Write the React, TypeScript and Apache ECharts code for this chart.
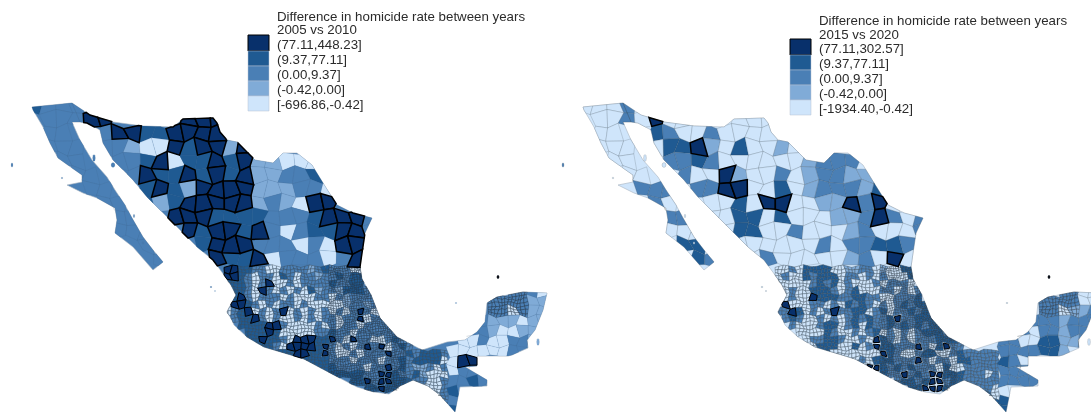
import React, { useEffect, useRef } from "react";
import * as echarts from "echarts";

// Class of each cell: 1 (lowest bin) .. 5 (highest bin), '.' = keep the panel's base class.
const northLeft = [
  "4333",
  ".33355.....555",
  ".33..355445555",
  ".333.33211545525",
  "..33..334514454522111",
  "...33..354454545223342",
  "....33..4542555522233 1",
  ".....33.424555552321553",
  "......33..555444433345553",
  "......333..545545313 44553",
  "........3...45553331315 5",
  ".........3...54451333135",
].map((s) => s.replace(/ /g, ""));
const southLeft = [
  "55443311333323433311",
  "55431331431332334344",
  "44431351131333343344",
  "444315313131423324443",
  ".453133313111331323333",
  ".5543131331311111 23323",
  "13451313513131313135313",
  ".344531311313133133 51333",
  "..4444553111131313313333",
  "...44454111113343313333 33",
  "...445443155544531533113 43",
  "....4443155554531313535134 3",
  "......444455445311313335 33434443",
  ".........444444333133313 34344441",
  "............444433331335 34322313",
  "...............444443355 43342111",
  "..................445355 44433113",
  "....................4454 43..1113",
  ".............................113",
  "..............................13",
  "...............................4",
].map((s) => s.replace(/ /g, ""));
const eastLeft = ["......3331.", "....333322.", "....331322.", "...3222122.", "..3321122..", ".11311332", "1111113.", "155", "133", "3343", "4", "3", "4"];

const northRight = [
  "1113",
  ".1131511...111",
  ".11..431131111",
  ".111.1445214112" + "1",
  "..11..3343111111" + "2333",
  "...11..3115211312" + "33224",
  "....333.335511412" + "33324",
  ".....31..114155" + "11225351",
  "......33.1144141" + "112235313",
  "......111.144113" + "111231113",
  ".......44.11111" + "113133443",
  "........43..131" + "111123151",
];
const southRight = [
  "11314444" + "11223312" + "1144",
  "13114344" + "41331313" + "1114",
  "11111343" + "41311131" + "3331",
  ".1311444" + "31341113" + "31313",
  ".1311544" + "43344331" + "13334",
  ".5111331" + "31434313" + "134344",
  "33541313" + "53344134" + "1334344",
  ".3431131" + "31343433" + "45334444",
  "..311134" + "41341433" + "43434344",
  "...11114" + "31131341" + "31313444" + "3",
  "....1334" + "43113154" + "31313334" + "443",
  ".....144" + "41141354" + "43335314" + "533",
  ".......4" + "11111115" + "43113441" + "13433333",
  "........" + ".1113144" + "43335313" + "31443333",
  "........" + "...11554" + "34343331" + "41133333",
  "........" + ".......4" + "33534355" + "44433313",
  "........" + "........" + ".3443455" + "34433333",
  "........" + "........" + "...44555" + "433.3331",
  "........" + "........" + "........" + ".....341",
  "........" + "........" + "........" + "......34",
  "........" + "........" + "........" + ".......4",
];
const eastRight = ["......3311", "....333311", "....331223", "...3332333", "..3133233", "331144223", "3333442", "431", "333", "3333", "1", "4", "4"];

const islandClassesLeft = [3, 3, 3, 3, 3, 3, 5, 2, 2, 3, 2];
const islandClassesRight = [3, 1, 1, 1, 1, 1, 5, 1, 1, 1, 1];

const binColors = ["#cfe5fb", "#80abd7", "#4a7fb5", "#1f5a92", "#08306b"];
const legendTitle = "Difference in homicide rate between years";
const leftSubtitle = "2005 vs 2010";
const rightSubtitle = "2015 vs 2020";
const leftBins = ["(77.11,448.23]", "(9.37,77.11]", "(0.00,9.37]", "(-0.42,0.00]", "[-696.86,-0.42]"];
const rightBins = ["(77.11,302.57]", "(9.37,77.11]", "(0.00,9.37]", "(-0.42,0.00]", "[-1934.40,-0.42]"];

type P = [number, number];

// Base map shape of the country (map units = pixels of the left panel).
const mainland: P[] = [
  [72, 103], [90, 115], [113, 122], [143, 126], [173, 127], [183, 119], [213, 118], [217, 123], [220, 132], [227, 140],
  [237, 142], [245, 150], [255, 160], [267, 162], [273, 163], [283, 153], [297, 153], [312, 165], [323, 183], [337, 205],
  [353, 213], [372, 218], [365, 233], [362, 253], [360, 267], [362, 279], [371, 295], [380, 318], [397, 337], [422, 350],
  [447, 342], [465, 340], [477, 332], [485, 322], [487, 303], [497, 297], [523, 292], [547, 293], [543, 310], [535, 330],
  [527, 340], [528, 348], [512, 355], [508, 356], [477, 356], [477, 366], [465, 367], [487, 380], [487, 386], [460, 387],
  [455, 412], [440, 395], [428, 386], [413, 380], [400, 386], [389, 394], [374, 392], [357, 387], [334, 375], [304, 359],
  [291, 355], [264, 347], [247, 337], [234, 325], [232, 320], [227, 312], [231, 304], [236, 295], [231, 285], [224, 275],
  [213, 260], [197, 247], [180, 230], [163, 213], [147, 197], [133, 180], [113, 160], [103, 143], [100, 130], [87, 123], [80, 122],
];
const baja: P[] = [
  [32, 107], [72, 103], [80, 122], [72, 122], [80, 140], [92, 160], [107, 177], [115, 190], [125, 205], [132, 218],
  [143, 237], [153, 250], [163, 262], [153, 270], [133, 247], [115, 233], [117, 220], [115, 208], [97, 198], [83, 193],
  [67, 185], [82, 182], [82, 175], [72, 168], [58, 158], [50, 143], [43, 127], [33, 110],
];
const islands: number[][] = [
  [12, 165, 1, 2.2], [94, 158, 1.4, 3.5], [113, 165, 2, 2.5], [62, 178, 0.8, 0.8], [134, 216, 0.7, 1.8], [143, 243, 0.9, 1.3],
  [498, 277, 0.8, 1.6], [538, 342, 1.4, 3.6], [456, 303, 1, 0.6], [211, 287, 1, 0.7], [215, 291, 0.7, 0.6],
];

function clip(subject: P[], quad: P[]): P[] {
  let out = subject;
  for (let k = 0; k < quad.length && out.length; k++) {
    const a = quad[k];
    const b = quad[(k + 1) % quad.length];
    const side = (p: P) => (b[0] - a[0]) * (p[1] - a[1]) - (b[1] - a[1]) * (p[0] - a[0]);
    const input = out;
    out = [];
    for (let i = 0; i < input.length; i++) {
      const cur = input[i];
      const prev = input[(i + input.length - 1) % input.length];
      const sc = side(cur);
      const sp = side(prev);
      if (sc >= 0 !== sp >= 0) {
        const t = sp / (sp - sc);
        out.push([prev[0] + t * (cur[0] - prev[0]), prev[1] + t * (cur[1] - prev[1])]);
      }
      if (sc >= 0) out.push(cur);
    }
  }
  return out;
}

function area(poly: P[]) {
  let s = 0;
  for (let i = 0; i < poly.length; i++) {
    const p = poly[i];
    const q = poly[(i + 1) % poly.length];
    s += p[0] * q[1] - q[0] * p[1];
  }
  return Math.abs(s) / 2;
}

const ring = (poly: P[]) => {
  const r = poly.map(([x, y]) => [x, -y]);
  r.push(r[0]);
  return r;
};

type Cell = { name: string; polys: P[][]; cls: number; kind: string };

function cells(rows: string[], x0: number, y0: number, size: number, kind: string, nCols: number, split: (r: number, c: number) => number): Cell[] {
  const amp = size * 0.2;
  const v = (i: number, j: number): P => [
    x0 + i * size + amp * Math.sin(1.7 * i + 2.9 * j),
    y0 + j * size + amp * Math.cos(2.3 * i - 1.9 * j),
  ];
  const res: Cell[] = [];
  rows.forEach((row, r) => {
    for (let c = 0; c < nCols; c++) {
      const ch = row[c];
      if (!ch || ch === ".") continue;
      const cls = +ch;
      const q = [v(c, r), v(c + 1, r), v(c + 1, r + 1), v(c, r + 1)];
      const n = cls === 5 ? 1 : split(r, c);
      const at = (u: number, w: number): P => {
        const x = (1 - w) * ((1 - u) * q[0][0] + u * q[1][0]) + w * ((1 - u) * q[3][0] + u * q[2][0]);
        const y = (1 - w) * ((1 - u) * q[0][1] + u * q[1][1]) + w * ((1 - u) * q[3][1] + u * q[2][1]);
        // Inner corners of a subdivided cell are nudged so the mesh does not read as a regular net.
        if (n === 1 || u === 0 || u === 1 || w === 0 || w === 1) return [x, y];
        const j = (size / n) * 0.26;
        return [x + j * Math.sin(x * 3.1 + y * 5.3), y + j * Math.cos(x * 4.7 - y * 2.9)];
      };
      for (let a = 0; a < n; a++) {
        for (let b = 0; b < n; b++) {
          // Dots of the top bin are drawn small inside the dense south.
          const shrink = cls === 5 && kind === "s" && c >= 13 ? 0.14 : 0;
          const quad = [
            at(a / n + shrink, b / n + shrink),
            at((a + 1) / n - shrink, b / n + shrink),
            at((a + 1) / n - shrink, (b + 1) / n - shrink),
            at(a / n + shrink, (b + 1) / n - shrink),
          ];
          const polys = [clip(mainland, quad), clip(baja, quad)].filter((p) => p.length > 2 && area(p) > 0.2);
          if (polys.length) res.push({ name: `${kind}-${r}-${c}-${a}-${b}`, polys, cls, kind: kind === "s" && n > 2 ? "d" : kind === "e" && n > 1 ? "d" : kind });
        }
      }
    }
  });
  return res;
}

const splitNorth = () => 1;
const splitSouth = (_r: number, c: number) => (c >= 15 && c < 26 ? 3 : 2);
const splitEast = (r: number, c: number) => (r <= 2 && c >= 3 && c <= 7 ? 3 : 1);

function buildPanel(mapName: string, north: string[], south: string[], east: string[], isl: number[], baseCls: number, northLine: string) {
  const all = [
    ...cells(north, 28, 98, 14, "n", 26, splitNorth),
    ...cells(south, 224, 266, 7, "s", 32, splitSouth),
    ...cells(east, 448, 286, 10, "e", 11, splitEast),
  ];
  islands.forEach((d, i) => {
    const pts: P[] = [];
    for (let k = 0; k < 8; k++) pts.push([d[0] + d[2] * Math.cos((k * Math.PI) / 4), d[1] + d[3] * Math.sin((k * Math.PI) / 4)]);
    all.push({ name: `i-${i}`, polys: [pts], cls: isl[i], kind: "i" });
  });
  all.sort((a, b) => (a.cls === 5 ? 1 : 0) - (b.cls === 5 ? 1 : 0));
  const features = [
    { type: "Feature", properties: { name: "base" }, geometry: { type: "MultiPolygon", coordinates: [[ring(mainland)], [ring(baja)]] } },
    ...all.map((c) => ({
      type: "Feature",
      properties: { name: c.name },
      geometry: { type: "MultiPolygon", coordinates: c.polys.map((p) => [ring(p)]) },
    })),
  ];
  echarts.registerMap(mapName, { type: "FeatureCollection", features } as any);
  const style = (cls: number, kind: string) => {
    if (cls === 5) return { areaColor: binColors[4], borderColor: "#000000", borderWidth: kind === "n" ? 1.5 : 1 };
    if (kind === "d") return { areaColor: binColors[cls - 1], borderColor: "#26313b", borderWidth: 0.38 };
    if (kind === "s") return { areaColor: binColors[cls - 1], borderColor: "#3a4855", borderWidth: 0.4 };
    return { areaColor: binColors[cls - 1], borderColor: northLine, borderWidth: 0.4 };
  };
  return [
    { name: "base", value: baseCls, itemStyle: { areaColor: binColors[baseCls - 1], borderColor: "#a8b4c0", borderWidth: 0.6 } },
    ...all.map((c) => ({ name: c.name, value: c.cls, itemStyle: style(c.cls, c.kind) })),
  ];
}

function legend(x: number, textX: number, swatchY: number, textY: number, subtitle: string, bins: string[]) {
  const els: any[] = [];
  const txt = (t: string, y: number) => ({
    type: "text",
    silent: true,
    style: { text: t, x: textX, y, fill: "#2b2b2b", font: '13.3px "Liberation Sans", Arial, sans-serif', textVerticalAlign: "middle" },
  });
  els.push(txt(legendTitle, textY));
  els.push(txt(subtitle, textY + 13.5));
  const ys = [0, 16, 31, 46, 61, 76];
  bins.forEach((b, i) => {
    els.push({
      type: "rect",
      silent: true,
      shape: { x, y: swatchY + ys[i], width: 21, height: ys[i + 1] - ys[i] },
      style: { fill: binColors[4 - i], stroke: i === 0 ? "#000000" : "#b5c3d0", lineWidth: i === 0 ? 1 : 0.5 },
    });
    els.push(txt(b, textY + 28 + i * 15));
  });
  return els;
}

export default function App() {
  const ref = useRef<HTMLDivElement>(null);
  useEffect(() => {
    document.body.style.margin = "0";
    document.body.style.background = "#ffffff";
    const chart = echarts.init(ref.current!, null, { renderer: "svg" });
    const leftData = buildPanel("mxLeft", northLeft, southLeft, eastLeft, islandClassesLeft, 3, "rgba(60,80,100,0.22)");
    const rightData = buildPanel("mxRight", northRight, southRight, eastRight, islandClassesRight, 1, "rgba(50,60,70,0.45)");
    const series = (map: string, data: any[], left: number) => ({
      type: "map",
      map,
      data,
      left,
      top: 0,
      width: 551,
      height: 412,
      aspectScale: 1,
      boundingCoords: [[0, 0], [551, -412]],
      roam: false,
      silent: true,
      selectedMode: false,
      label: { show: false },
      emphasis: { disabled: true },
    });
    chart.setOption({
      animation: false,
      backgroundColor: "#ffffff",
      series: [series("mxLeft", leftData, 0), series("mxRight", rightData, 551)],
      graphic: [
        ...legend(248, 277, 35, 16, leftSubtitle, leftBins),
        ...legend(790, 819, 39, 20.5, rightSubtitle, rightBins),
      ],
    });
    return () => chart.dispose();
  }, []);
  return <div ref={ref} style={{ width: 1091, height: 412, filter: "blur(0.45px)" }} />;
}
